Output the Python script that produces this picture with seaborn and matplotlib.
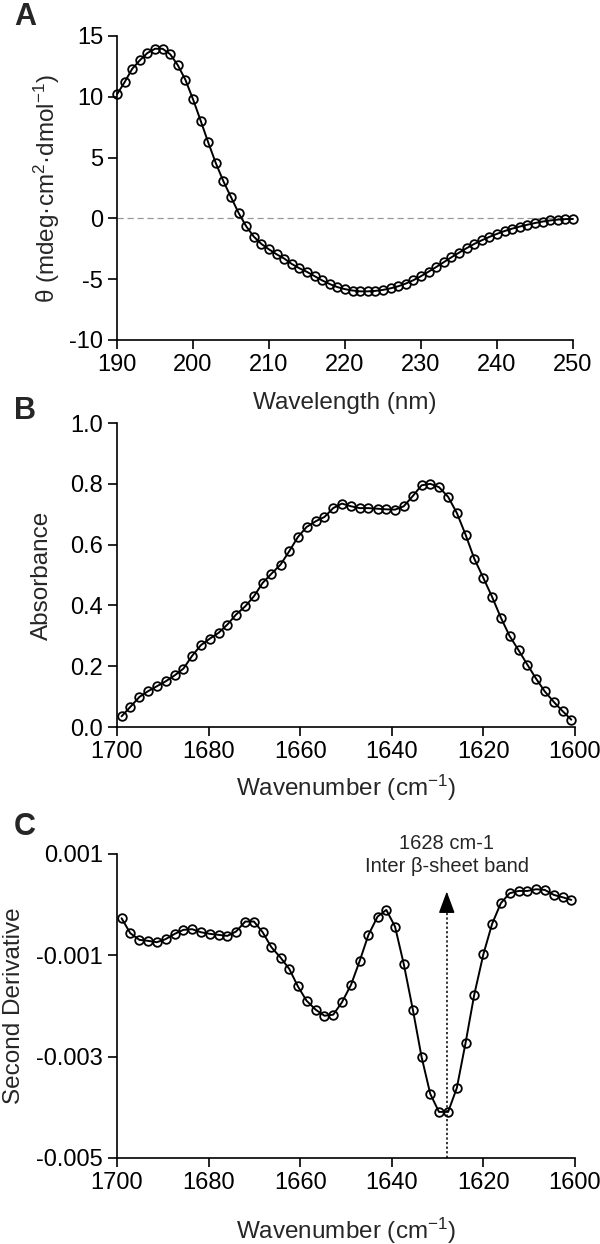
import matplotlib
matplotlib.use("Agg")
import matplotlib.pyplot as plt
import seaborn as sns
import pandas as pd

# Panel A: CD spectrum
wavelength = [190, 191, 192, 193, 194, 195, 196, 197, 198, 199,
              200, 201, 202, 203, 204, 205, 206, 207, 208, 209,
              210, 211, 212, 213, 214, 215, 216, 217, 218, 219,
              220, 221, 222, 223, 224, 225, 226, 227, 228, 229,
              230, 231, 232, 233, 234, 235, 236, 237, 238, 239,
              240, 241, 242, 243, 244, 245, 246, 247, 248, 249, 250]
theta = [10.2, 11.2, 12.3, 13.0, 13.6, 13.95, 13.95, 13.5, 12.6, 11.4,
         9.8, 8.05, 6.25, 4.55, 3.05, 1.75, 0.45, -0.65, -1.5, -2.1,
         -2.55, -2.95, -3.3, -3.75, -4.1, -4.4, -4.75, -5.1, -5.4, -5.65,
         -5.82, -5.93, -6.0, -6.0, -5.96, -5.88, -5.75, -5.58, -5.36, -5.08,
         -4.75, -4.38, -4.0, -3.6, -3.2, -2.82, -2.45, -2.1, -1.8, -1.52,
         -1.27, -1.04, -0.84, -0.67, -0.52, -0.38, -0.26, -0.17, -0.1, -0.06, -0.05]

# Panels B and C share the FTIR wavenumber grid
wavenumber = [1699.0, 1697.1, 1695.1, 1693.2, 1691.3, 1689.4, 1687.4, 1685.5, 1683.6, 1681.7,
              1679.7, 1677.8, 1675.9, 1674.0, 1672.0, 1670.1, 1668.2, 1666.3, 1664.3, 1662.4,
              1660.5, 1658.6, 1656.6, 1654.7, 1652.8, 1650.9, 1648.9, 1647.0, 1645.1, 1643.1,
              1641.2, 1639.3, 1637.4, 1635.4, 1633.5, 1631.6, 1629.7, 1627.7, 1625.8, 1623.9,
              1622.0, 1620.0, 1618.1, 1616.2, 1614.3, 1612.3, 1610.4, 1608.5, 1606.6, 1604.6,
              1602.7, 1600.8]
absorbance = [0.035, 0.066, 0.099, 0.118, 0.134, 0.150, 0.170, 0.192, 0.234, 0.269,
              0.291, 0.310, 0.337, 0.370, 0.397, 0.430, 0.474, 0.504, 0.534, 0.578,
              0.625, 0.658, 0.677, 0.691, 0.720, 0.735, 0.726, 0.720, 0.720, 0.718,
              0.716, 0.715, 0.726, 0.760, 0.795, 0.800, 0.789, 0.757, 0.704, 0.633,
              0.554, 0.490, 0.428, 0.360, 0.300, 0.252, 0.205, 0.159, 0.117, 0.082,
              0.052, 0.024]
second_deriv = [-0.000268, -0.000563, -0.000695, -0.000714, -0.000741, -0.000681, -0.000576,
                -0.000497, -0.000484, -0.000544, -0.000576, -0.000596, -0.000616, -0.000530,
                -0.000333, -0.000333, -0.000544, -0.000839, -0.001043, -0.001266, -0.001614,
                -0.001897, -0.002074, -0.002192, -0.002172, -0.001929, -0.001581, -0.001108,
                -0.000596, -0.000235, -0.000103, -0.000432, -0.001167, -0.002074, -0.003006,
                -0.003735, -0.004090, -0.004090, -0.003617, -0.002731, -0.001778, -0.000977,
                -0.000379, 0.000028, 0.000225, 0.000271, 0.000271, 0.000304, 0.000291,
                0.000192, 0.000146, 0.000094]

band_pos = 1628
band_tip = 0.00026
band_text = "1628 cm-1\nInter \u03b2-sheet band"

# Style
sns.set_style("ticks")
plt.rcParams['font.family'] = ['Liberation Sans', 'DejaVu Sans']
plt.rcParams['mathtext.fontset'] = 'custom'
plt.rcParams['mathtext.rm'] = 'Liberation Sans'
plt.rcParams['mathtext.default'] = 'regular'
plt.rcParams['axes.unicode_minus'] = False
plt.rcParams['axes.linewidth'] = 1.2
plt.rcParams['xtick.major.size'] = 6.5
plt.rcParams['ytick.major.size'] = 6.5
plt.rcParams['xtick.major.width'] = 1.2
plt.rcParams['ytick.major.width'] = 1.2
plt.rcParams['xtick.labelsize'] = 17
plt.rcParams['ytick.labelsize'] = 17
plt.rcParams['axes.labelsize'] = 17.5
plt.rcParams['xtick.color'] = 'black'
plt.rcParams['ytick.color'] = 'black'
plt.rcParams['axes.edgecolor'] = 'black'

W, H = 600, 1244
fig = plt.figure(figsize=(W / 100, H / 100), dpi=100)


def px_axes(left, right, top, bottom):
    return fig.add_axes([left / W, 1 - bottom / H, (right - left) / W, (bottom - top) / H])


def draw_series(ax, x, y):
    df = pd.DataFrame({'x': x, 'y': y})
    sns.lineplot(data=df, x='x', y='y', ax=ax, color='black', linewidth=1.4,
                 marker='o', markersize=6.2, markerfacecolor='none',
                 markeredgecolor='black', markeredgewidth=1.3, clip_on=False,
                 sort=False)
    sns.despine(ax=ax)


# Panel A
axA = px_axes(117, 573, 36, 340)
axA.axhline(0, color='#999999', linestyle=(0, (5, 3)), linewidth=0.9, zorder=0)
draw_series(axA, wavelength, theta)
axA.set_xlim(190, 250)
axA.set_ylim(-10, 15)
axA.set_xticks([190, 200, 210, 220, 230, 240, 250])
axA.set_yticks([-10, -5, 0, 5, 10, 15])
axA.set_xlabel("Wavelength (nm)")
axA.set_ylabel("\u03b8 (mdeg\u00b7cm$^2$\u00b7dmol$^{-1}$)")
axA.xaxis.set_label_coords(0.5, -0.17)
axA.yaxis.set_label_coords(-0.12, 0.5)

# Panel B
axB = px_axes(117, 575, 423, 727)
draw_series(axB, wavenumber, absorbance)
axB.set_xlim(1700, 1600)
axB.set_ylim(0, 1.0)
axB.set_xticks([1700, 1680, 1660, 1640, 1620, 1600])
axB.set_yticks([0.0, 0.2, 0.4, 0.6, 0.8, 1.0])
axB.set_yticklabels(['0.0', '0.2', '0.4', '0.6', '0.8', '1.0'])
axB.set_xlabel("Wavenumber (cm$^{-1}$)")
axB.set_ylabel("Absorbance")
axB.xaxis.set_label_coords(0.5, -0.15)
axB.yaxis.set_label_coords(-0.14, 0.5)

# Panel C
axC = px_axes(117, 575, 854, 1158)
draw_series(axC, wavenumber, second_deriv)
axC.set_xlim(1700, 1600)
axC.set_ylim(-0.005, 0.001)
axC.set_xticks([1700, 1680, 1660, 1640, 1620, 1600])
axC.set_yticks([-0.005, -0.003, -0.001, 0.001])
axC.set_yticklabels(['-0.005', '-0.003', '-0.001', '0.001'])
axC.set_xlabel("Wavenumber (cm$^{-1}$)")
axC.set_ylabel("Second Derivative")
axC.xaxis.set_label_coords(0.5, -0.19)
axC.yaxis.set_label_coords(-0.2, 0.5)

# band marker: dotted shaft plus a solid filled arrow head
axC.plot([band_pos, band_pos], [-0.005, band_tip - 0.0003], color='black',
         linestyle=(0, (1.5, 1.5)), linewidth=1.1)
axC.annotate('', xy=(band_pos, band_tip), xytext=(band_pos, band_tip - 0.0004),
             arrowprops=dict(arrowstyle='-|>,head_length=1.35,head_width=0.5',
                             color='black', lw=1.0, mutation_scale=10,
                             shrinkA=0, shrinkB=0))
axC.text(band_pos, 0.00098, band_text, ha='center', va='center',
         fontsize=14.5, linespacing=1.25)

# Panel letters
for letter, ytop in [('A', 2), ('B', 396), ('C', 812)]:
    fig.text(14 / W, 1 - ytop / H, letter, fontsize=22, fontweight='bold',
             ha='left', va='top')

fig.savefig("out.png", dpi=100)
